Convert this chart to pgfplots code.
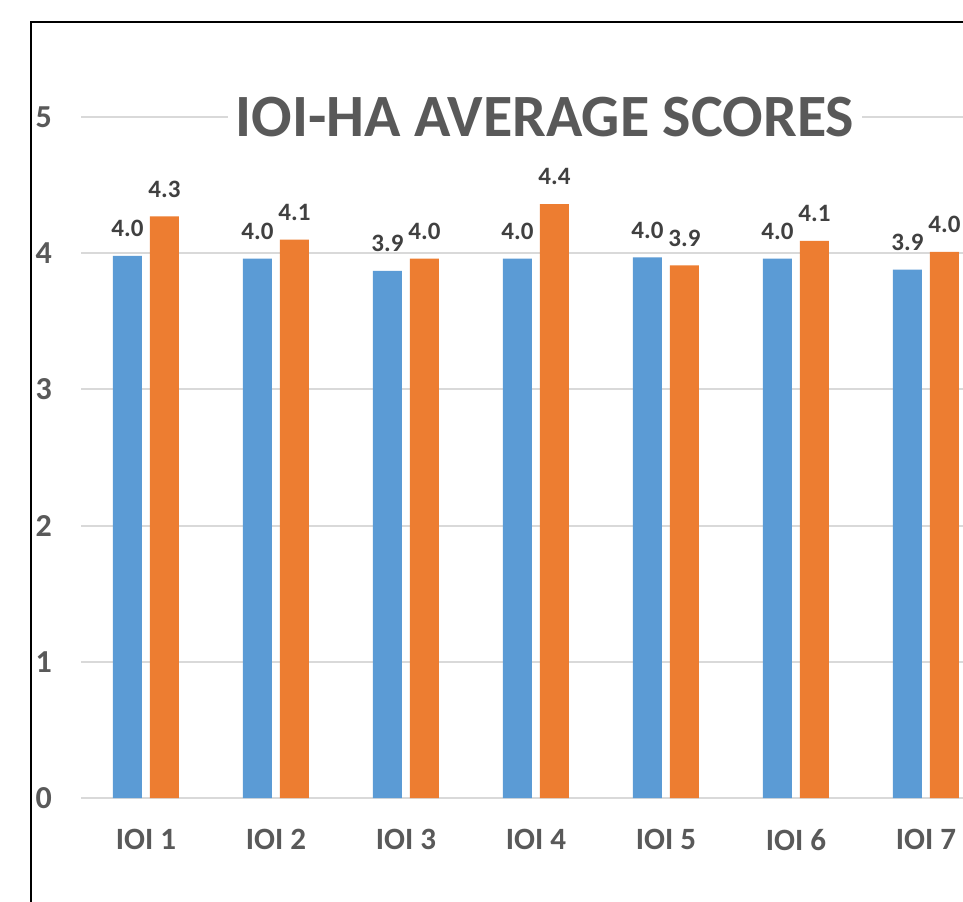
\documentclass[border=0pt]{standalone}
\usepackage{fontspec}
\setmainfont{Carlito}
\usepackage{pgfplots}
\pgfplotsset{compat=1.18}
\definecolor{cblue}{HTML}{5B9BD5}
\definecolor{corange}{HTML}{ED7D31}
\definecolor{cgrid}{HTML}{D9D9D9}
\definecolor{ctext}{HTML}{595959}
\definecolor{clabel}{HTML}{404040}
\begin{document}
\begin{tikzpicture}
\clip (0,0) rectangle (481.5pt,450.5pt);
\fill[white] (0,0) rectangle (481.5pt,450.5pt);
\begin{axis}[
  at={(40.5pt,51.5pt)}, anchor=south west,
  scale only axis, width=441pt, height=340.5pt,
  ybar=4pt, bar width=14.5pt,
  xmin=0.5, xmax=7.285, ymin=0, ymax=5,
  ytick={0,1,2,3,4,5},
  xtick=data,
  xticklabels={IOI 1,IOI 2,IOI 3,IOI 4,IOI 5,IOI 6,IOI 7},
  axis line style={draw=none},
  axis x line*=bottom,
  x axis line style={draw=cgrid, line width=1pt},
  major tick length=0pt,
  ymajorgrids, grid style={cgrid, line width=1pt},
  /pgf/number format/assume math mode=true,
  tick label style={font=\bfseries\fontsize{16}{18}\selectfont, text=ctext},
  xticklabel style={yshift=-12pt, font=\bfseries\fontsize{15.5}{17}\selectfont},
  yticklabel style={xshift=-11pt},
  nodes near coords,
  nodes near coords style={font=\bfseries\fontsize{12.5}{14}\selectfont, text=clabel, yshift=6pt, /pgf/number format/fixed, /pgf/number format/precision=1, /pgf/number format/zerofill, /pgf/number format/assume math mode=true},
  clip=false,
  title={IOI-HA AVERAGE SCORES},
  title style={at={(0.526,1)}, anchor=center, yshift=-6pt, fill=white, inner xsep=4pt, font=\bfseries\fontsize{30}{32}\selectfont, text=ctext},
]
\addplot[fill=cblue, draw=none] coordinates {(1,3.98) (2,3.96) (3,3.87) (4,3.96) (5,3.97) (6,3.96) (7,3.88)};
\addplot[fill=corange, draw=none] coordinates {(1,4.27) (2,4.10) (3,3.96) (4,4.36) (5,3.91) (6,4.09) (7,4.01)};
\end{axis}
\draw[black, line width=1pt] (15.5pt,-2pt) -- (15.5pt,439.5pt) -- (490pt,439.5pt);
\end{tikzpicture}
\end{document}
